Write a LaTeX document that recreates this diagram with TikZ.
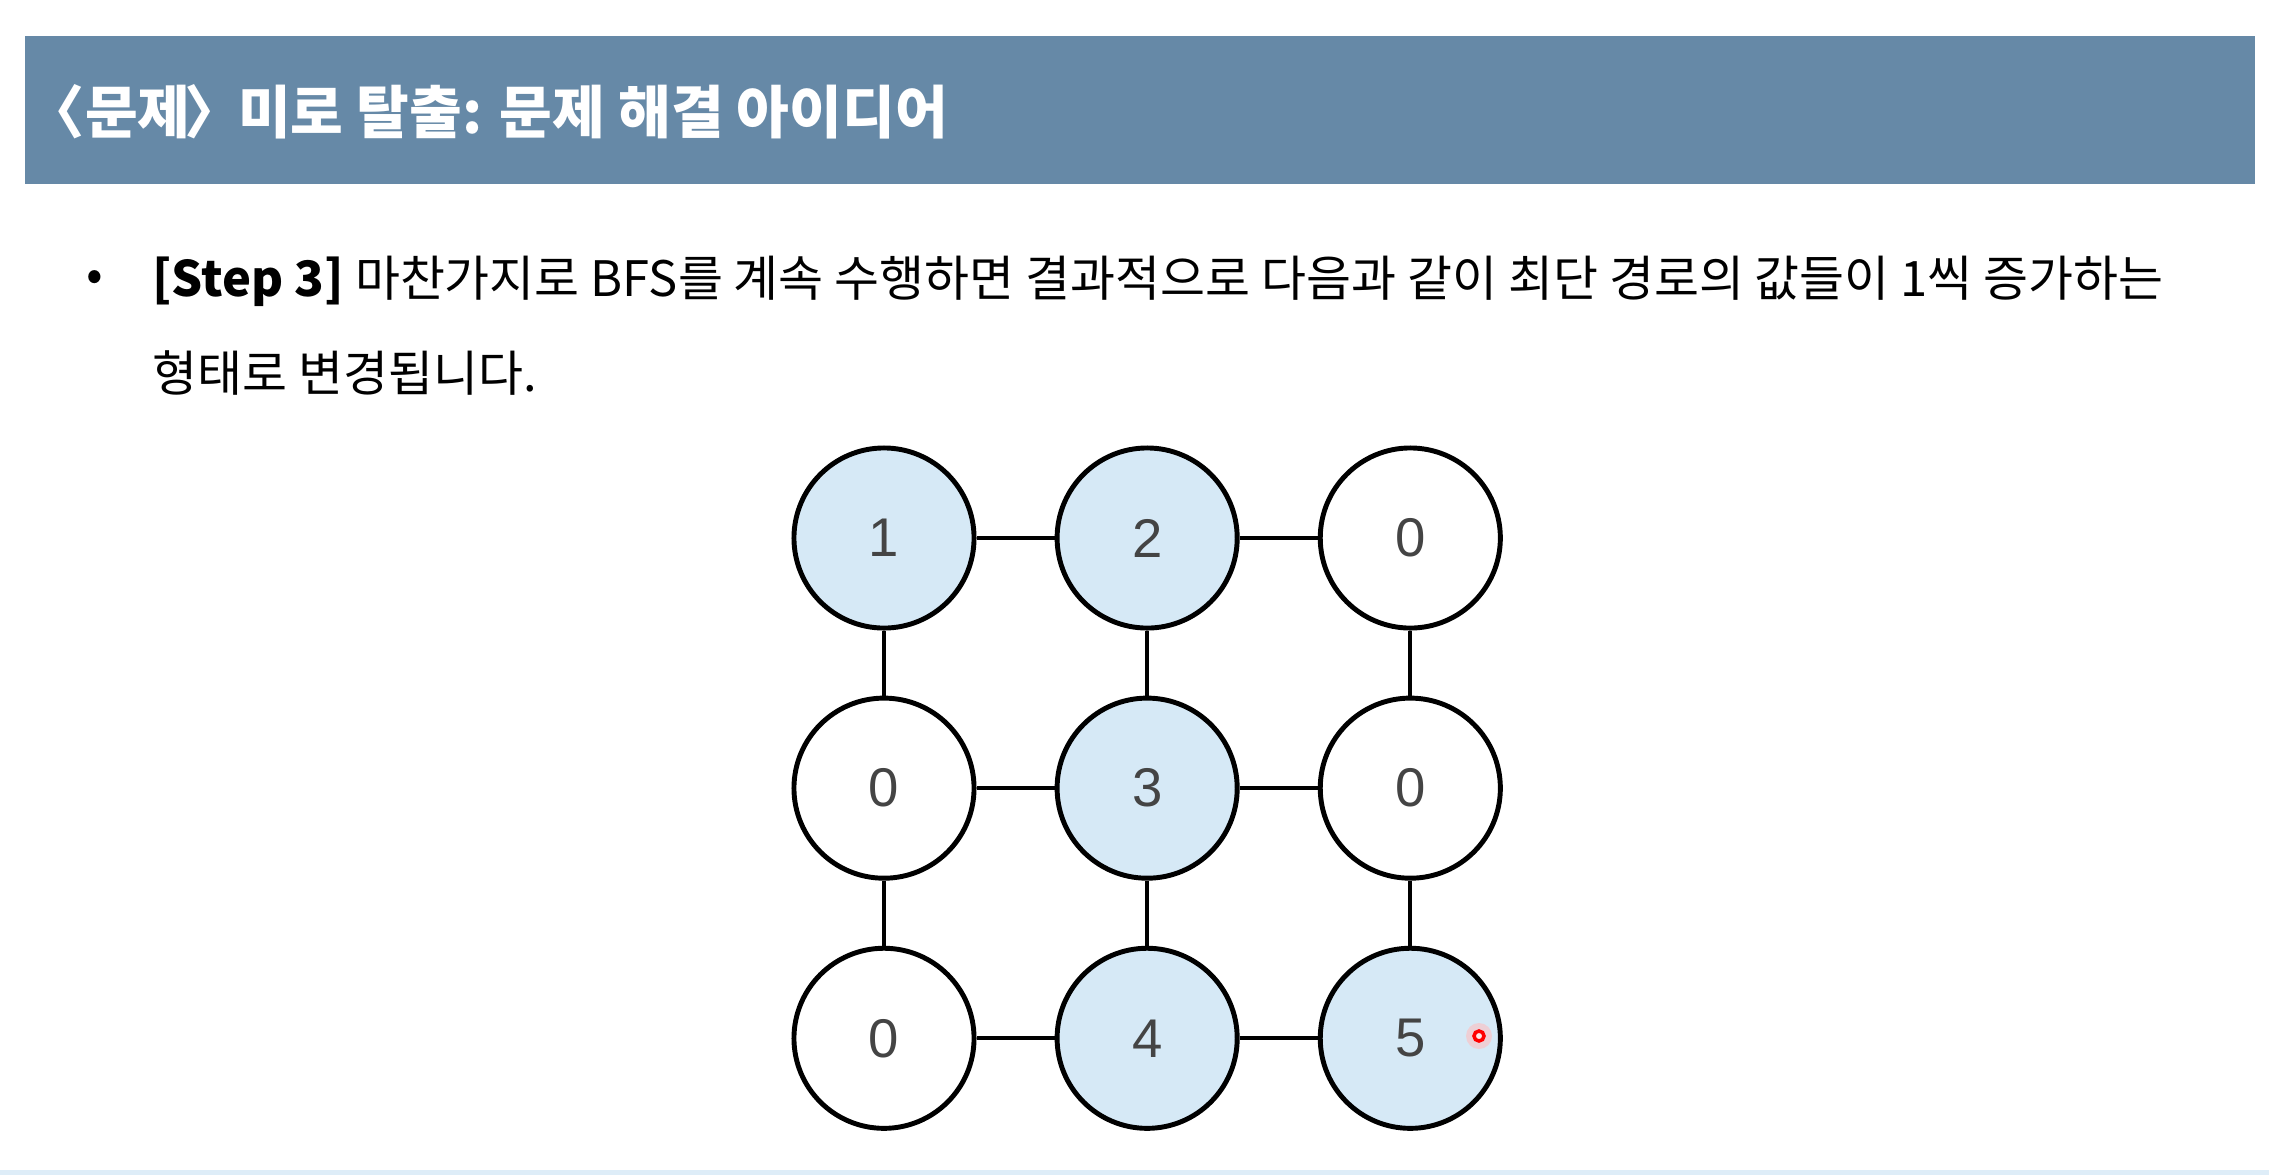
\documentclass[tikz,border=0pt]{standalone}
\usepackage{fontspec}
\setmainfont{Noto Sans CJK KR}
\newfontfamily\numfont{Liberation Sans}
\usetikzlibrary{positioning}
\definecolor{bandblue}{RGB}{102,137,167}
\definecolor{cellblue}{RGB}{214,233,246}
\definecolor{numgray}{RGB}{68,68,68}
\tikzset{
x=0.01cm, y=-0.01cm, % one unit is one pixel of the slide, y goes down
node distance=2.63cm, % distance between the centres of two cells in a row
cell/.style={circle, draw, line width=1.4pt, minimum size=1.8cm, inner sep=0pt, fill=white, text=numgray, font=\numfont\fontsize{15.5}{15.5}\selectfont}, % a cell of the maze
visited/.style={cell, fill=cellblue}, % a cell on the shortest path
link/.style={line width=1.1pt}, % a passage between two cells
body/.style={anchor=west, font=\fontsize{13.9}{13.9}\selectfont}, % text under the title
}

\begin{document}
\begin{tikzpicture}
    \useasboundingbox (0,0) rectangle (2269,1175);
    % title band
    \fill[bandblue] (25,36) rectangle (2255,184);
    \node[anchor=west, text=white, font=\bfseries\fontsize{16.3}{16.3}\selectfont] (title) at (44,112) {\kern-0.5em〈문제\kern-0.1em〉\kern-0.3em{} 미로 탈출: 문제 해결 아이디어};
    % bullet text
    \node[body] (bullet) at (74,281) {•};
    \node[body] (line1) at (140,281) {\textbf{[Step 3]} 마찬가지로 BFS를 계속 수행하면 결과적으로 다음과 같이 최단 경로의 값들이 1씩 증가하는};
    \node[body] (line2) at (140,373) {형태로 변경됩니다.};
    % maze
    \node[visited] (c11) at (884,538) {1};
    \node[visited, right of=c11] (c12) {2};
    \node[cell, right of=c12] (c13) {0};
    \node[cell, below of=c11, node distance=2.5cm] (c21) {0};
    \node[visited, right of=c21] (c22) {3};
    \node[cell, right of=c22] (c23) {0};
    \node[cell, below of=c21, node distance=2.5cm] (c31) {0};
    \node[visited, right of=c31] (c32) {4};
    \node[visited, right of=c32] (c33) {5};
    \draw[link] (c11) edge (c12)
    (c12) edge (c13)
    (c21) edge (c22)
    (c22) edge (c23)
    (c31) edge (c32)
    (c32) edge (c33)
    (c11) edge (c21)
    (c21) edge (c31)
    (c12) edge (c22)
    (c22) edge (c32)
    (c13) edge (c23)
    (c23) edge (c33);
    % pointer
    \fill[red!25, opacity=0.6] (1479,1036) circle (13);
    \draw[red, line width=1pt, fill=red!10] (1479,1036) circle (5);
    % bottom edge of the slide
    \fill[cellblue!80] (0,1170) rectangle (2269,1175);
\end{tikzpicture}
\end{document}
